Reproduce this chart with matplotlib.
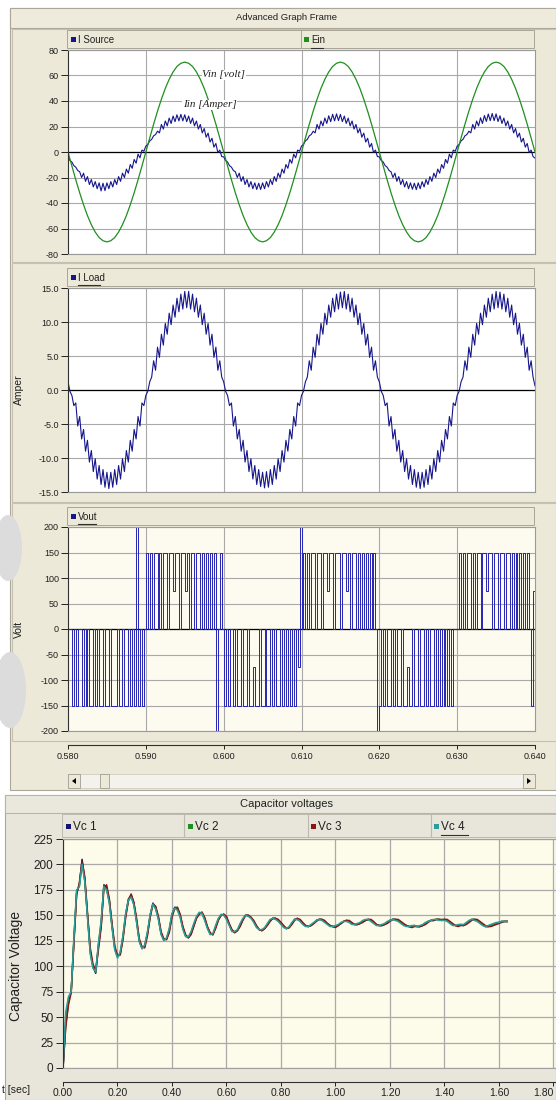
import matplotlib
matplotlib.use("Agg")
import matplotlib.pyplot as plt
import numpy as np
from matplotlib import font_manager
from matplotlib.lines import Line2D
from matplotlib.patches import Ellipse, Polygon, Rectangle
from matplotlib.ticker import FormatStrFormatter

W, H = 556, 1100

# ---------------- data ----------------
t_start = 0.580
fast_step = 0.00025  # sample spacing of I Source, I Load and Vout
ein_step = 0.0005

ein = [
    0, -11.0, -21.8, -32.0, -41.4, -49.9, -57.0, -62.8, -67.1, -69.6,
    -70.5, -69.6, -67.1, -62.8, -57.0, -49.9, -41.4, -32.0, -21.8, -11.0,
    0, 11.0, 21.8, 32.0, 41.4, 49.9, 57.0, 62.8, 67.1, 69.6,
    70.5, 69.6, 67.1, 62.8, 57.0, 49.9, 41.4, 32.0, 21.8, 11.0,
    0, -11.0, -21.8, -32.0, -41.4, -49.9, -57.0, -62.8, -67.1, -69.6,
    -70.5, -69.6, -67.1, -62.8, -57.0, -49.9, -41.4, -32.0, -21.8, -11.0,
    0, 11.0, 21.8, 32.0, 41.4, 49.9, 57.0, 62.8, 67.1, 69.6,
    70.5, 69.6, 67.1, 62.8, 57.0, 49.9, 41.4, 32.0, 21.8, 11.0,
    0, -11.0, -21.8, -32.0, -41.4, -49.9, -57.0, -62.8, -67.1, -69.6,
    -70.5, -69.6, -67.1, -62.8, -57.0, -49.9, -41.4, -32.0, -21.8, -11.0,
    0, 11.0, 21.8, 32.0, 41.4, 49.9, 57.0, 62.8, 67.1, 69.6,
    70.5, 69.6, 67.1, 62.8, 57.0, 49.9, 41.4, 32.0, 21.8, 11.0,
    0,
]

i_source = [
    -3.8, -6.7, -7.9, -10.7, -11.9, -14.5, -15.5, -20.0, -16.6, -23.0,
    -19.3, -25.5, -21.6, -27.4, -23.2, -28.8, -24.2, -30.5, -24.5, -30.3,
    -24.2, -28.8, -23.2, -27.4, -21.6, -25.5, -19.3, -23.0, -16.6, -20.0,
    -13.4, -16.6, -9.8, -12.8, -5.8, -8.8, -1.7, -4.6, 1.5, 0.6,
    4.6, 5.9, 8.7, 9.9, 12.7, 13.7, 16.3, 15.0, 21.6, 18.0,
    24.3, 20.5, 26.6, 22.4, 28.2, 23.8, 29.2, 24.4, 29.5, 24.4,
    29.2, 23.8, 28.2, 22.4, 26.6, 20.5, 24.3, 18.0, 21.6, 15.0,
    18.4, 11.6, 14.8, 7.8, 10.8, 3.8, 6.7, -0.4, 1.5, -3.6,
    -3.8, -6.7, -7.9, -10.7, -11.9, -14.5, -15.5, -20.0, -16.6, -23.0,
    -19.3, -25.5, -21.6, -27.4, -23.2, -28.8, -24.2, -29.4, -24.5, -29.4,
    -24.2, -28.8, -23.2, -27.4, -21.6, -25.5, -19.3, -23.0, -16.6, -20.0,
    -13.4, -16.6, -9.8, -12.8, -5.8, -8.8, -1.7, -4.6, 1.5, 0.6,
    4.6, 5.9, 8.7, 9.9, 12.7, 13.7, 16.3, 15.0, 21.6, 18.0,
    24.3, 20.5, 26.6, 22.4, 28.4, 23.8, 29.6, 24.4, 29.9, 24.6,
    29.5, 23.8, 28.2, 22.4, 26.6, 20.5, 24.3, 18.0, 21.6, 15.0,
    18.4, 11.6, 14.8, 7.8, 10.8, 3.8, 6.7, -0.4, 1.5, -3.6,
    -3.8, -6.7, -7.9, -10.7, -11.9, -14.5, -15.5, -20.0, -16.6, -23.0,
    -19.3, -25.5, -21.6, -27.4, -23.2, -28.8, -24.2, -29.2, -24.5, -29.5,
    -24.2, -28.8, -23.2, -27.4, -21.6, -25.5, -19.3, -23.0, -16.6, -20.0,
    -13.4, -16.6, -9.8, -12.8, -5.8, -8.8, -1.7, -4.6, 1.5, 0.6,
    4.6, 5.9, 8.7, 9.9, 12.7, 13.7, 16.3, 15.0, 21.6, 18.0,
    24.3, 20.5, 26.8, 22.4, 28.6, 24.0, 29.8, 24.6, 30.2, 24.6,
    29.9, 23.9, 28.4, 22.4, 26.6, 20.5, 24.3, 18.0, 21.6, 15.0,
    18.4, 11.6, 14.8, 7.8, 10.8, 3.8, 6.7, -0.4, 1.5, -3.6,
    -4.8,
]

i_load = [
    1.2, -0.2, -0.8, -2.3, -1.9, -5.3, -3.9, -7.2, -5.8, -9.0,
    -7.4, -10.6, -8.9, -12.0, -10.1, -13.1, -11.1, -13.9, -11.7, -14.3,
    -12.1, -14.5, -12.1, -14.3, -11.7, -13.9, -11.1, -13.1, -10.1, -12.0,
    -8.9, -10.6, -7.4, -9.0, -5.8, -7.2, -3.9, -5.3, -1.9, -2.3,
    -0.8, -0.2, 1.2, 1.9, 4.3, 2.9, 6.3, 4.8, 8.2, 6.6,
    9.8, 8.2, 11.3, 9.6, 12.5, 10.7, 13.5, 11.5, 14.1, 11.9,
    14.5, 12.1, 14.5, 11.9, 14.1, 11.5, 13.5, 10.7, 12.5, 9.6,
    11.3, 8.2, 9.8, 6.6, 8.2, 4.8, 6.3, 2.9, 4.3, 1.9,
    1.2, -0.2, -0.8, -2.3, -1.9, -5.3, -3.9, -7.2, -5.8, -9.0,
    -7.4, -10.6, -8.9, -12.0, -10.1, -13.1, -11.1, -13.9, -11.7, -14.2,
    -12.1, -14.4, -12.0, -14.3, -11.7, -13.9, -11.1, -13.1, -10.1, -12.0,
    -8.9, -10.6, -7.4, -9.0, -5.8, -7.2, -3.9, -5.3, -1.9, -2.3,
    -0.8, -0.2, 1.2, 1.9, 4.3, 2.9, 6.3, 4.8, 8.2, 6.6,
    9.8, 8.2, 11.3, 9.6, 12.5, 10.7, 13.5, 11.5, 14.1, 11.9,
    14.4, 12.1, 14.5, 11.9, 14.1, 11.5, 13.5, 10.7, 12.5, 9.6,
    11.3, 8.2, 9.8, 6.6, 8.2, 4.8, 6.3, 2.9, 4.3, 1.9,
    1.2, -0.2, -0.8, -2.3, -1.9, -5.3, -3.9, -7.2, -5.8, -9.0,
    -7.4, -10.6, -8.9, -12.0, -10.1, -13.1, -11.1, -13.9, -11.7, -14.3,
    -12.1, -14.5, -12.1, -14.3, -11.7, -13.9, -11.1, -13.1, -10.1, -12.0,
    -8.9, -10.6, -7.4, -9.0, -5.8, -7.2, -3.9, -5.3, -1.9, -2.3,
    -0.8, -0.2, 1.2, 1.9, 4.3, 2.9, 6.3, 4.8, 8.2, 6.6,
    9.8, 8.2, 11.3, 9.6, 12.5, 10.7, 13.5, 11.5, 14.1, 11.9,
    14.5, 12.1, 14.4, 11.9, 14.1, 11.5, 13.5, 10.7, 12.5, 9.6,
    11.3, 8.2, 9.8, 6.6, 8.2, 4.8, 6.3, 2.9, 4.3, 1.9,
    0.6,
]

vout = [
    0, 0, -150, 0, -150, 0, 0, -150, 0, -150,
    0, -150, -150, 0, -150, 0, -150, -150, 0, -150,
    -150, 0, -150, -150, -150, 0, -150, -150, 0, -150,
    -150, 0, -150, 0, -150, 200, -150, 0, -150, 0,
    150, 0, 150, 0, 150, 150, 0, 150, 0, 150,
    150, 0, 150, 150, 75, 150, 150, 0, 150, 150,
    75, 150, 0, 150, 150, 0, 150, 150, 0, 150,
    0, 150, 0, 150, 0, 150, -200, 0, 150, 0,
    -150, 0, -150, 0, 0, -150, 0, -150, -150, 0,
    -150, -150, 0, -150, -150, -75, -150, -150, 0, -150,
    -150, 0, -150, -150, 0, -150, 0, -150, -150, 0,
    -150, 0, -150, 0, -150, 0, -150, 0, -75, 200,
    0, 150, 0, 150, 0, 150, 150, 0, 150, 150,
    0, 150, 150, 75, 150, 150, 0, 150, 150, 150,
    0, 150, 150, 75, 150, 0, 150, 150, 0, 150,
    0, 150, 0, 150, 0, 150, 0, 150, 0, -200,
    -150, 0, -150, 0, -150, -150, 0, -150, 0, -150,
    -150, 0, -150, -150, -75, -150, -150, 0, -150, -150,
    0, -150, -150, 0, -150, 0, -150, -150, 0, -150,
    0, -150, 0, -150, 0, -150, 0, -150, 0, 0,
    0, 150, 0, 150, 0, 150, 150, 0, 150, 0,
    150, 150, 0, 150, 150, 75, 150, 150, 0, 150,
    150, 0, 150, 150, 0, 150, 150, 0, 150, 0,
    150, 0, 150, 0, 150, 0, 150, 0, -150, 75,
    0,
]

vc_step = 0.01
vc1 = [
    0, 42, 65, 75, 125, 172, 180, 205, 185, 150,
    115, 100, 93, 120, 140, 180, 178, 165, 140, 118,
    110, 112, 128, 150, 166, 170, 162, 145, 125, 118,
    120, 132, 150, 162, 158, 148, 132, 126, 127, 135,
    150, 158, 157, 150, 138, 130, 128, 132, 140, 148,
    152, 153, 147, 138, 132, 131, 138, 146, 150, 151,
    148, 141, 135, 133, 135, 140, 146, 150, 150, 148,
    144, 139, 136, 135, 137, 141, 145, 147, 147, 145,
    142, 139, 137, 138, 142, 146, 147, 145, 142, 140,
    139, 140, 142, 145, 146, 146, 144, 142, 140, 139,
    139, 140, 142, 144, 145, 144, 142, 141, 141, 142,
    144, 145, 146, 145, 143, 141, 140, 140, 141, 143,
    145, 146, 146, 145, 143, 141, 140, 139, 139, 140,
    139, 139, 140, 142, 144, 145, 145, 146, 146, 145,
    146, 145, 143, 141, 140, 140, 141, 140, 142, 144,
    146, 146, 145, 143, 141, 139, 139, 140, 141, 142,
    143, 144, 144, 144,
]
vc2 = [
    0, 48, 68, 75, 126, 173, 179, 202, 184, 149,
    114, 99, 94, 121, 143, 179, 176, 163, 139, 117,
    109, 113, 129, 151, 165, 169, 161, 144, 125, 118,
    120, 133, 150, 161, 157, 147, 132, 126, 127, 136,
    151, 157, 156, 149, 137, 130, 128, 133, 141, 148,
    152, 152, 146, 138, 132, 131, 139, 146, 150, 151,
    147, 141, 135, 134, 135, 141, 146, 150, 150, 148,
    144, 139, 136, 135, 137, 141, 145, 147, 147, 145,
    142, 139, 137, 138, 142, 146, 146, 145, 142, 140,
    139, 140, 142, 145, 146, 146, 144, 142, 140, 139,
    139, 140, 142, 144, 145, 144, 142, 141, 141, 142,
    144, 145, 146, 145, 143, 141, 140, 140, 141, 143,
    145, 146, 146, 145, 143, 141, 140, 139, 139, 140,
    139, 139, 140, 142, 144, 145, 145, 146, 146, 145,
    146, 145, 143, 141, 140, 140, 141, 140, 142, 144,
    146, 146, 145, 143, 141, 139, 139, 140, 141, 142,
    143, 144, 144, 144,
]
vc3 = [
    0, 40, 62, 74, 122, 170, 182, 203, 188, 152,
    118, 102, 96, 116, 138, 176, 180, 166, 142, 120,
    110, 111, 126, 148, 164, 171, 163, 147, 127, 119,
    118, 130, 148, 161, 159, 149, 134, 127, 126, 133,
    148, 157, 158, 151, 139, 131, 128, 131, 139, 147,
    151, 153, 148, 139, 133, 131, 137, 145, 150, 151,
    149, 142, 136, 133, 135, 139, 145, 150, 150, 148,
    145, 140, 136, 135, 137, 140, 144, 147, 147, 146,
    143, 140, 137, 138, 141, 145, 147, 146, 143, 140,
    139, 140, 142, 144, 146, 146, 145, 142, 140, 139,
    138, 140, 142, 144, 145, 145, 143, 141, 141, 142,
    143, 145, 146, 146, 144, 141, 140, 140, 141, 142,
    144, 146, 146, 146, 144, 142, 140, 139, 138, 139,
    139, 139, 140, 141, 143, 145, 145, 146, 146, 146,
    146, 146, 144, 142, 140, 139, 140, 140, 141, 143,
    145, 146, 146, 144, 142, 140, 139, 139, 140, 141,
    142, 143, 144, 144,
]
vc4 = [
    0, 55, 70, 75, 128, 175, 178, 200, 183, 148,
    112, 98, 95, 122, 145, 178, 175, 162, 138, 116,
    108, 114, 130, 152, 165, 168, 160, 143, 124, 117,
    121, 134, 151, 161, 156, 146, 131, 125, 128, 137,
    152, 157, 155, 148, 136, 129, 129, 134, 142, 149,
    153, 152, 145, 137, 131, 132, 140, 147, 151, 150,
    146, 140, 134, 134, 136, 142, 147, 150, 149, 147,
    143, 138, 136, 136, 138, 142, 146, 147, 146, 144,
    141, 138, 137, 139, 143, 146, 146, 144, 141, 139,
    139, 141, 143, 145, 146, 145, 143, 141, 139, 139,
    140, 141, 143, 144, 144, 143, 141, 141, 142, 143,
    145, 146, 146, 144, 142, 140, 140, 141, 142, 144,
    145, 146, 145, 144, 142, 140, 139, 139, 140, 140,
    139, 140, 141, 143, 144, 145, 146, 146, 145, 145,
    145, 144, 142, 140, 140, 141, 141, 141, 143, 145,
    146, 145, 144, 142, 140, 139, 140, 141, 142, 143,
    143, 144, 144, 144,
]

top_xticks = [0.580, 0.590, 0.600, 0.610, 0.620, 0.630, 0.640]
src_yticks = [-80, -60, -40, -20, 0, 20, 40, 60, 80]
load_yticks = [-15, -10, -5, 0, 5, 10, 15]
vout_yticks = [-200, -150, -100, -50, 0, 50, 100, 150, 200]
vc_xticks = [0.0, 0.2, 0.4, 0.6, 0.8, 1.0, 1.2, 1.4, 1.6, 1.8]
vc_yticks = [0, 25, 50, 75, 100, 125, 150, 175, 200, 225]
vc_names = ["Vc 1", "Vc 2", "Vc 3", "Vc 4"]

# ---------------- styling ----------------
NAVY = "#16168c"
VOUT_BLUE = "#2424b4"
GREEN = "#1f8f1f"
VC_COLORS = ["#141470", "#1f8f1f", "#8a1616", "#2f9c9c"]
FRAME = "#ece9d8"
FRAME2 = "#e8e6da"
EDGE = "#aca899"
GRID = "#a9a9a9"

installed = {f.name for f in font_manager.fontManager.ttflist}
SANS = "Liberation Sans Narrow" if "Liberation Sans Narrow" in installed else "Liberation Sans"
plt.rcParams["font.family"] = SANS

fig = plt.figure(figsize=(W / 100, H / 100), dpi=100)
fig.patch.set_facecolor("white")


def frac(x0, y0, x1, y1):
    return [x0 / W, 1 - y1 / H, (x1 - x0) / W, (y1 - y0) / H]


def box(x0, y0, x1, y1, fc, ec="none", lw=0.8, z=-5):
    fig.add_artist(Rectangle((x0 / W, 1 - y1 / H), (x1 - x0) / W, (y1 - y0) / H,
                             transform=fig.transFigure, fc=fc, ec=ec, lw=lw, zorder=z))


def line(xs, ys, color, lw=0.8, z=5):
    fig.add_artist(Line2D([x / W for x in xs], [1 - y / H for y in ys],
                          transform=fig.transFigure, color=color, lw=lw, zorder=z))


def label(x, y, s, size, **kw):
    fig.text(x / W, 1 - y / H, s, fontsize=size, **kw)


def legend_item(x, y, name, color, size=7, underline=None):
    box(x, y - 3, x + 5, y + 2, color, z=5)
    label(x + 7, y, name, size, ha="left", va="center", color="#202020", zorder=6)
    if underline:
        line(underline[:2], [underline[2]] * 2, "#303030", lw=0.8, z=6)


# watermark blobs on the left edge
for cx, cy, w, h in [(8, 548, 28, 66), (10, 690, 32, 76)]:
    fig.add_artist(Ellipse((cx / W, 1 - cy / H), w / W, h / H, transform=fig.transFigure,
                           fc="#dcdcdc", ec="none", zorder=-3))

# ---------------- top frame ----------------
box(10, 8, 556, 790, FRAME, EDGE)
box(10, 8, 556, 28, "#eeebdd", EDGE)
label(287, 18, "Advanced Graph Frame", 6.8, ha="center", va="center", color="#202020")

panels = [(29, 262), (263, 502), (503, 741)]
for y0, y1 in panels:
    box(12, y0, 556, y1, FRAME, "#c4c1b2", z=-4)

strips = [(30, 48), (268, 286), (507, 525)]
for y0, y1 in strips:
    box(67, y0, 534, y1, FRAME, "#a8a596", lw=0.7, z=-3)
line([301, 301], [30, 48], "#a8a596", lw=0.7)

legend_item(71, 40, "I Source", NAVY)
legend_item(304, 40, "Ein", GREEN, underline=(311, 323, 48))
legend_item(71, 278, "I Load", NAVY, underline=(78, 100, 285))
legend_item(71, 517, "Vout", NAVY, underline=(78, 96, 524))

t_fast = t_start + fast_step * np.arange(len(i_source))
t_ein = t_start + ein_step * np.arange(len(ein))


def style_top(ax, yticks, fmt, face):
    ax.set_facecolor(face)
    ax.set_xlim(top_xticks[0], top_xticks[-1])
    ax.set_ylim(yticks[0], yticks[-1])
    ax.set_xticks(top_xticks[1:-1])
    ax.set_yticks(yticks)
    ax.yaxis.set_major_formatter(FormatStrFormatter(fmt))
    ax.tick_params(axis="x", length=0, labelbottom=False)
    ax.tick_params(axis="y", direction="out", length=5, width=0.7, labelsize=6.5,
                   pad=1.5, colors="#202020")
    ax.grid(True, color=GRID, lw=0.8)
    ax.set_axisbelow(True)
    ax.axhline(0, color="black", lw=0.9, zorder=1.5)
    for s in ax.spines.values():
        s.set_color("#9a9a9a")
        s.set_linewidth(0.8)
    ax.spines["left"].set_color("#303030")


ax1 = fig.add_axes(frac(68, 50, 535, 254))
style_top(ax1, src_yticks, "%d", "white")
ax1.plot(t_fast, i_source, color=NAVY, lw=0.8)
ax1.plot(t_ein, ein, color=GREEN, lw=0.9)
serif = dict(family="Liberation Serif", style="italic", fontsize=8, color="#202020",
             ha="center", va="center",
             bbox=dict(fc="white", ec="none", pad=0.3))
ax1.text(0.6000, 60.5, "Vin [volt]", **serif)
ax1.text(0.5982, 37.0, "Iin [Amper]", **serif)

ax2 = fig.add_axes(frac(68, 288, 535, 492))
style_top(ax2, load_yticks, "%.1f", "white")
ax2.plot(t_fast, i_load, color=NAVY, lw=0.8)
label(19, 390, "Amper", 7.5, rotation=90, ha="center", va="center", color="#202020")

ax3 = fig.add_axes(frac(68, 527, 535, 731))
style_top(ax3, vout_yticks, "%d", "#fdfbf0")
ax3.plot(t_fast, vout, color=VOUT_BLUE, lw=0.7, drawstyle="steps-post")
label(19, 629, "Volt", 7.5, rotation=90, ha="center", va="center", color="#202020")

# shared time axis of the top frame
axt = fig.add_axes(frac(68, 735, 535, 745))
axt.set_facecolor("none")
axt.set_xlim(top_xticks[0], top_xticks[-1])
axt.set_xticks(top_xticks)
axt.set_xticklabels(["%.3f" % v for v in top_xticks])
axt.set_yticks([])
for side in ("top", "left", "right"):
    axt.spines[side].set_visible(False)
axt.spines["bottom"].set_color("#303030")
axt.tick_params(axis="x", direction="out", length=3, width=0.7, labelsize=6.5, pad=2,
                colors="#202020")

# scroll bar
box(68, 774, 535, 788, "#f3f2ec", "#cfcdc2", lw=0.6, z=-2)
box(68, 774, 80, 788, FRAME, "#a09e92", lw=0.6, z=-1)
box(523, 774, 535, 788, FRAME, "#a09e92", lw=0.6, z=-1)
box(100, 774, 109, 788, FRAME, "#a09e92", lw=0.6, z=-1)
for pts in [[(72, 781), (76, 778), (76, 784)], [(531, 781), (527, 778), (527, 784)]]:
    fig.add_artist(Polygon([(x / W, 1 - y / H) for x, y in pts], closed=True,
                           transform=fig.transFigure, fc="black", ec="none", zorder=2))

# ---------------- capacitor frame ----------------
box(5, 795, 556, 1100, FRAME2, EDGE)
box(5, 795, 556, 813, "#eae8dc", "#b8b5a6")
label(287, 804, "Capacitor voltages", 8, ha="center", va="center", color="#202020")
box(62, 814, 556, 837, FRAME2, "#bdbaab", lw=0.7, z=-3)
for x in (184, 308, 431):
    line([x, x], [814, 837], "#bdbaab", lw=0.8)
for x, name, color in zip((66, 188, 311, 434), vc_names, VC_COLORS):
    legend_item(x, 827, name, color, size=8.5,
                underline=(441, 468, 835) if name == "Vc 4" else None)

axc = fig.add_axes(frac(63, 839, 556.2, 1068))
axc.set_facecolor("#fdfbea")
t_vc = vc_step * np.arange(len(vc1))
for series, color in zip((vc1, vc2, vc3, vc4), VC_COLORS):
    axc.plot(t_vc, series, color=color, lw=1.1)
axc.set_xlim(0, 1.81)
axc.set_ylim(vc_yticks[0], vc_yticks[-1])
axc.set_xticks(vc_xticks)
axc.set_yticks(vc_yticks)
axc.tick_params(axis="x", length=0, labelbottom=False)
axc.tick_params(axis="y", direction="out", length=5, width=0.7, labelsize=8.5, pad=2,
                colors="#202020")
axc.grid(True, color="#aaaaaa", lw=0.9)
axc.set_axisbelow(True)
for s in axc.spines.values():
    s.set_color("#a0a0a0")
axc.spines["left"].set_color("#303030")
label(16, 966, "Capacitor Voltage", 10, rotation=90, ha="center", va="center",
      color="#202020")

axb = fig.add_axes(frac(63, 1074, 556.2, 1082))
axb.set_facecolor("none")
axb.set_xlim(0, 1.81)
axb.set_xticks(vc_xticks)
# the last label sits at the image edge: keep it inside by right-aligning it
axb.set_xticklabels(["%.2f" % v for v in vc_xticks])
axb.get_xticklabels()[-1].set_horizontalalignment("right")
axb.set_yticks([])
for side in ("top", "left", "right"):
    axb.spines[side].set_visible(False)
axb.spines["bottom"].set_color("#303030")
axb.tick_params(axis="x", direction="out", length=3, width=0.7, labelsize=7.5, pad=1,
                colors="#202020")
label(2, 1090, "t [sec]", 7.5, ha="left", va="center", color="#202020")

fig.savefig("out.png", dpi=100)
